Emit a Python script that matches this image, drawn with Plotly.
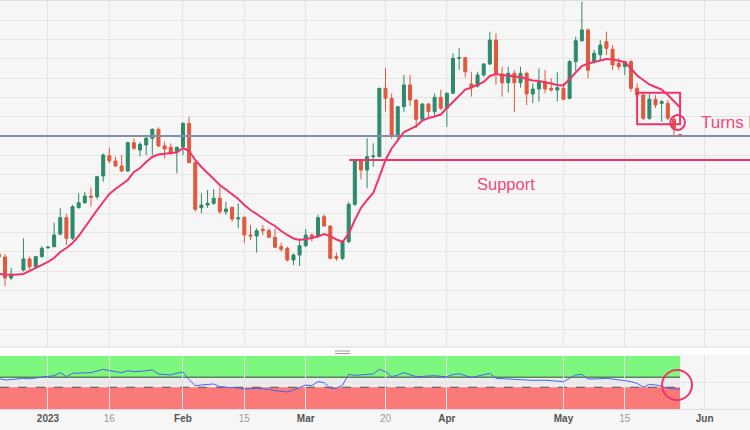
import pandas as pd
import plotly.graph_objects as go

# ---------------- data ----------------
skip_days = ["2022-12-26", "2023-04-07"]
dates = [d.strftime("%Y-%m-%d") for d in pd.bdate_range("2022-12-21", "2023-05-26")
         if d.strftime("%Y-%m-%d") not in skip_days]

open_ = [1817.9, 1814.8, 1793.1, 1801.4, 1812.8, 1804.8, 1815.2,
         1824.5, 1825.5, 1838.6, 1855.5, 1834.2, 1865.8, 1871.0, 1877.9, 1877.2, 1898.6,
         1919.6, 1914.1, 1909.0, 1903.8, 1933.1, 1925.5, 1930.7, 1937.6, 1946.9, 1929.7,
         1928.3, 1923.8,
         1928.9, 1953.1, 1912.4, 1865.8, 1868.6, 1870.4, 1875.6, 1861.7, 1866.2, 1854.1,
         1855.9, 1837.6, 1836.5, 1843.5, 1842.0, 1835.2, 1825.5, 1823.8, 1811.7, 1816.9,
         1826.5, 1837.6, 1836.0, 1856.5, 1846.9, 1815.2, 1813.5, 1830.7, 1869.3, 1914.3,
         1904.8, 1918.6, 1918.6, 1989.3, 1979.0, 1940.5, 1970.3, 1992.8, 1977.2, 1957.3,
         1973.1, 1965.1, 1980.0,
         1968.7, 1984.2, 2020.4, 2021.0, 1993.8, 1991.7, 2003.1, 2014.5, 2039.3, 2004.1,
         1995.1, 2004.9, 1995.1, 2004.9, 1983.5, 1988.6, 1996.2, 1989.4, 1987.6,
         1989.3, 1979.0, 2016.9, 2038.6, 2049.7, 2016.9, 2024.0, 2037.6, 2029.7, 2015.2,
         2011.7, 2016.9, 1989.3, 1982.4, 1958.3, 1978.0, 1973.8, 1973.8, 1957.3, 1941.5]
high = [1823.0, 1817.9, 1803.7, 1834.2, 1815.2, 1816.0, 1826.2,
        1826.0, 1850.3, 1865.2, 1859.3, 1868.6, 1880.7, 1882.4, 1886.5, 1898.5, 1922.1,
        1927.9, 1918.6, 1920.3, 1934.1, 1937.6, 1933.5, 1939.3, 1948.0, 1949.0, 1934.0,
        1932.4, 1929.0,
        1954.0, 1960.0, 1913.4, 1880.7, 1884.0, 1885.0, 1887.6, 1872.0, 1866.9, 1870.4,
        1856.5, 1848.0, 1844.5, 1848.0, 1844.5, 1844.5, 1829.6, 1825.5, 1818.6, 1834.2,
        1843.8, 1839.3, 1858.3, 1859.0, 1847.5, 1819.3, 1832.4, 1872.0, 1914.5, 1915.2,
        1937.6, 1932.4, 1989.8, 2010.0, 1984.0, 1971.0, 2003.0, 2003.0, 1977.8, 1974.0,
        1974.0, 1984.0, 1987.6,
        1984.8, 2025.6, 2030.7, 2021.5, 2006.5, 2006.5, 2015.2, 2047.9, 2046.2, 2011.7,
        2011.7, 2008.3, 2011.7, 2006.5, 1994.5, 2010.0, 2008.3, 1999.7, 2006.0,
        1994.5, 2018.6, 2042.7, 2078.9, 2051.4, 2029.0, 2039.3, 2048.0, 2034.0, 2020.7,
        2017.6, 2018.6, 1994.5, 1984.5, 1984.2, 1982.4, 1977.2, 1977.2, 1961.0, 1942.0]
low = [1810.0, 1784.8, 1791.0, 1800.0, 1802.0, 1803.0, 1814.1,
       1823.0, 1825.0, 1837.0, 1827.2, 1832.4, 1865.0, 1869.7, 1866.9, 1874.5, 1892.7,
       1911.8, 1908.2, 1903.0, 1903.0, 1925.5, 1919.0, 1920.3, 1920.3, 1928.3, 1917.0,
       1920.3, 1901.4,
       1920.3, 1911.8, 1861.7, 1860.0, 1865.8, 1868.6, 1859.3, 1858.3, 1851.3, 1844.5,
       1829.0, 1832.4, 1819.3, 1837.6, 1834.2, 1824.0, 1820.3, 1810.0, 1806.5, 1805.5,
       1824.9, 1830.7, 1835.0, 1846.2, 1812.4, 1810.7, 1811.7, 1829.0, 1867.6, 1895.2,
       1886.0, 1908.2, 1918.0, 1965.0, 1937.0, 1934.1, 1965.0, 1971.0, 1948.0, 1954.8,
       1960.0, 1960.0, 1967.0,
       1949.6, 1983.5, 2008.3, 2000.7, 1980.7, 1990.0, 2001.3, 2013.4, 1993.0, 1980.7,
       1984.8, 1965.0, 1990.0, 1972.0, 1974.0, 1975.6, 1984.2, 1985.9, 1975.6,
       1977.2, 1978.0, 2006.5, 2037.5, 1999.7, 2014.8, 2018.6, 2023.8, 2008.3, 2008.3,
       2003.0, 1985.8, 1977.2, 1956.6, 1956.6, 1969.0, 1954.8, 1956.6, 1939.3, 1939.5]
close = [1814.8, 1793.1, 1797.2, 1812.8, 1804.8, 1815.2, 1823.8,
         1825.0, 1837.6, 1855.5, 1834.2, 1866.9, 1871.0, 1877.9, 1876.6, 1897.9, 1920.3,
         1914.4, 1909.0, 1903.8, 1933.1, 1927.3, 1931.4, 1937.6, 1946.9, 1929.7, 1926.5,
         1922.1, 1928.3,
         1953.1, 1912.4, 1864.2, 1868.6, 1870.4, 1875.6, 1861.7, 1864.5, 1854.1, 1855.2,
         1837.6, 1836.5, 1842.0, 1842.0, 1835.2, 1824.9, 1822.8, 1811.7, 1816.9, 1826.5,
         1837.6, 1835.2, 1855.5, 1846.9, 1813.5, 1813.5, 1830.7, 1869.3, 1914.3, 1904.8,
         1918.6, 1919.3, 1989.3, 1979.0, 1941.0, 1970.3, 1992.8, 1977.2, 1957.3, 1973.1,
         1965.1, 1980.0, 1968.7,
         1984.2, 2020.4, 2021.0, 2006.5, 1991.0, 2003.1, 2014.5, 2039.3, 2004.1, 1995.1,
         2004.9, 1995.1, 2004.9, 1983.5, 1988.6, 1996.2, 1988.6, 1987.6, 1990.0,
         1978.0, 2016.9, 2038.6, 2049.7, 2008.0, 2025.6, 2034.1, 2030.7, 2013.5, 2011.7,
         2016.9, 1989.3, 1982.4, 1958.3, 1978.0, 1972.1, 1975.5, 1958.3, 1947.5, 1940.8]
moving_avg = [1797.2, 1796.7, 1796.2, 1797.2, 1800.3, 1803.4, 1806.0,
              1809.7, 1813.8, 1820.0, 1824.1, 1829.3, 1836.5, 1845.9, 1854.1, 1863.4, 1871.7,
              1880.0, 1885.2, 1889.8, 1894.5, 1902.8, 1906.9, 1913.1, 1918.3, 1920.9, 1921.9,
              1922.4, 1922.9,
              1927.6, 1924.5, 1915.2, 1907.9, 1901.7, 1895.5, 1889.3, 1884.7, 1879.5, 1874.8,
              1868.6, 1863.4, 1859.3, 1854.7, 1850.5, 1846.9, 1841.7, 1837.6, 1834.0, 1832.4,
              1833.1, 1834.5, 1836.0, 1838.6, 1836.5, 1832.9, 1830.3, 1839.0, 1853.1, 1865.5,
              1873.8, 1881.0, 1897.6, 1915.2, 1927.1, 1935.9, 1944.1, 1947.2, 1950.3, 1956.0,
              1958.6, 1960.2, 1962.2,
              1969.0, 1975.7, 1982.4, 1988.1, 1990.2, 1992.8, 1995.9, 2002.1, 2004.1, 2003.1,
              2002.6, 2002.1, 2001.0, 1999.0, 1997.4, 1996.9, 1995.9, 1994.3, 1992.8,
              1992.2, 1999.0, 2006.2, 2012.4, 2015.0, 2016.6, 2018.1, 2019.7, 2019.1, 2017.6,
              2016.6, 2009.8, 2002.6, 1997.9, 1993.3, 1990.7, 1988.1, 1982.4, 1976.2, 1969.5]
oscillator = [57.5, 54.7, 55.5, 57.9, 57.0, 58.5, 60.0,
              61.0, 62.9, 68.6, 61.0, 67.3, 67.9, 68.2, 68.6, 71.7, 74.8,
              72.5, 70.0, 68.6, 72.3, 70.4, 71.0, 72.5, 73.6, 66.0, 64.8,
              64.2, 67.5,
              69.8, 55.0, 44.0, 45.3, 46.0, 47.2, 42.1, 41.5, 40.9, 39.5,
              37.7, 38.5, 39.0, 38.0, 37.1, 34.6, 33.5, 32.1, 35.8, 40.5,
              45.3, 44.0, 51.6, 49.7, 39.0, 39.0, 45.0, 65.4, 63.5, 64.5,
              65.4, 66.0, 74.8, 70.4, 61.0, 64.0, 68.6, 65.0, 61.0, 61.5,
              62.0, 62.9, 61.5,
              61.0, 65.0, 66.5, 63.0, 59.8, 62.0, 64.0, 67.3, 57.9, 57.0,
              56.0, 55.5, 54.7, 54.7, 54.0, 54.7, 54.3, 53.5, 53.0,
              51.6, 57.9, 64.2, 65.4, 56.6, 56.6, 57.0, 57.9, 56.4, 55.5,
              53.5, 51.6, 48.4, 40.9, 46.5, 45.3, 43.0, 39.0, 38.0, 37.1]

tick_dates = ["2023-01-02", "2023-01-16", "2023-02-01", "2023-02-15", "2023-03-01",
              "2023-03-20", "2023-04-03", "2023-05-01", "2023-05-15", "2023-06-01"]
tick_labels = ["2023", "16", "Feb", "15", "Mar", "20", "Apr", "May", "15", "Jun"]
month_labels = {"2023", "Feb", "Mar", "Apr", "May", "Jun"}

level_1940 = 1940.0
support_level = 1915.2
support_start = "2023-03-10 02:00"

# ---------------- style ----------------
GREEN = "#2d8a6b"
RED = "#e1583e"
PINK = "#ee3569"
TEXT_PINK = "#ee4a7c"
BG = "#f6f6f6"
GRID = "#e5e5e5"
X_START = "2022-12-21 04:20"
X_END = "2023-06-12 09:30"
LAST = dates[-1]

ticktext = [f"<b>{t}</b>" if t in month_labels else f"<span style='color:#9a9a9a'>{t}</span>"
            for t in tick_labels]

fig = go.Figure()
# horizontal 1940 level (drawn first so the candles sit on top of it)
fig.add_trace(go.Scatter(x=[X_START, X_END], y=[level_1940, level_1940], mode="lines",
                         line=dict(color="#7f8fa6", width=2), showlegend=False,
                         hoverinfo="skip", xaxis="x", yaxis="y", cliponaxis=True))
fig.add_trace(go.Candlestick(
    x=dates, open=open_, high=high, low=low, close=close,
    increasing=dict(line=dict(color=GREEN, width=1), fillcolor=GREEN),
    decreasing=dict(line=dict(color=RED, width=1), fillcolor=RED),
    whiskerwidth=0, showlegend=False, hoverinfo="skip", xaxis="x", yaxis="y"))
fig.add_trace(go.Scatter(x=dates, y=moving_avg, mode="lines",
                         line=dict(color=PINK, width=2), showlegend=False,
                         hoverinfo="skip", xaxis="x", yaxis="y"))
fig.add_trace(go.Scatter(x=dates, y=oscillator, mode="lines",
                         line=dict(color="#4d5ff2", width=1), showlegend=False,
                         hoverinfo="skip", xaxis="x", yaxis="y2"))

shapes = [
    # lower panel bands
    dict(type="rect", xref="x", yref="y2", x0=X_START, x1=LAST, y0=60, y1=100,
         fillcolor="#7ef77e", line=dict(width=0), layer="below"),
    dict(type="rect", xref="x", yref="y2", x0=X_START, x1=LAST, y0=41, y1=60,
         fillcolor="#ececec", line=dict(width=0), layer="below"),
    dict(type="rect", xref="x", yref="y2", x0=X_START, x1=LAST, y0=0, y1=41,
         fillcolor="#fa7a7a", line=dict(width=0), layer="below"),
    dict(type="line", xref="x", yref="y2", x0=X_START, x1=LAST, y0=60, y1=60,
         line=dict(color="#2f4a2f", width=1), layer="below"),
    dict(type="line", xref="x", yref="y2", x0=X_START, x1=LAST, y0=41, y1=41,
         line=dict(color="#555555", width=1, dash="dash"), layer="below"),
    # support line
    dict(type="line", xref="x", yref="y", x0=support_start, x1=X_END,
         y0=support_level, y1=support_level, line=dict(color=PINK, width=2)),
    # rectangle & circle
    dict(type="rect", xref="x", yref="y", x0="2023-05-17", x1=LAST, y0=1952.1, y1=1984.8,
         line=dict(color=PINK, width=2)),
    dict(type="circle", xref="x", yref="y", x0="2023-05-24 10:00", x1="2023-05-26 19:00",
         y0=1946.2, y1=1961.8, line=dict(color=PINK, width=2)),
    dict(type="circle", xref="x", yref="y2", x0="2023-05-23 01:30", x1="2023-05-29 22:30",
         y0=17, y1=73.6, line=dict(color=PINK, width=2)),
    # separator band between panels
    dict(type="rect", xref="paper", yref="paper", x0=0, x1=1, y0=0.1320, y1=0.1504,
         fillcolor="white", line=dict(width=0)),
    dict(type="line", xref="paper", yref="paper", x0=0, x1=1, y0=0.1514, y1=0.1514,
         line=dict(color="#d9dee6", width=1)),
    dict(type="line", xref="paper", yref="paper", x0=335 / 750, x1=350 / 750,
         y0=(409 - 351) / 409, y1=(409 - 351) / 409, line=dict(color="#9a9a9a", width=1)),
    dict(type="line", xref="paper", yref="paper", x0=335 / 750, x1=350 / 750,
         y0=(409 - 353.5) / 409, y1=(409 - 353.5) / 409, line=dict(color="#9a9a9a", width=1)),
    dict(type="line", xref="paper", yref="paper", x0=0, x1=1, y0=0.999, y1=0.999,
         line=dict(color="#d6dde6", width=1)),
]

annotations = [
    dict(x="2023-04-17 15:30", y=1890.3, xref="x", yref="y", text="Support",
         showarrow=False, font=dict(size=16.5, color=TEXT_PINK,
                                    family="Liberation Sans, Arial, sans-serif")),
    dict(x="2023-05-31 02:30", y=1954.0, xref="x", yref="y", text="Turns lower",
         showarrow=False, xanchor="left",
         font=dict(size=17, color=TEXT_PINK, family="Liberation Sans, Arial, sans-serif")),
]

fig.update_layout(
    width=750, height=430,
    margin=dict(l=0, r=0, t=0, b=21),
    paper_bgcolor=BG, plot_bgcolor=BG,
    showlegend=False,
    font=dict(family="Liberation Sans, Arial, sans-serif", size=10, color="#555555"),
    xaxis=dict(
        type="date", range=[X_START, X_END],
        rangebreaks=[dict(bounds=["sat", "mon"]), dict(values=["2023-04-07"])],
        rangeslider=dict(visible=False),
        anchor="y2",
        tickmode="array", tickvals=tick_dates, ticktext=ticktext,
        tickfont=dict(size=10, color="#555555"),
        showgrid=True, gridcolor=GRID, gridwidth=1,
        showline=True, linecolor="#dcdcdc", ticks="", zeroline=False,
    ),
    yaxis=dict(
        domain=[0.1516, 1.0], range=[1721.7, 2080.7], anchor="x",
        tick0=1940, dtick=20, showgrid=True, gridcolor=GRID, gridwidth=1,
        showticklabels=False, zeroline=False, ticks="",
    ),
    yaxis2=dict(
        domain=[0.0, 0.1296], range=[0, 100], anchor="x",
        tickvals=[50], showgrid=True, gridcolor=GRID,
        showticklabels=False, zeroline=False, ticks="",
    ),
    shapes=shapes,
    annotations=annotations,
)

fig.write_html("out.html", config={"displayModeBar": False},
               post_script="document.body.style.margin='0';document.body.style.background='#f6f6f6';")
